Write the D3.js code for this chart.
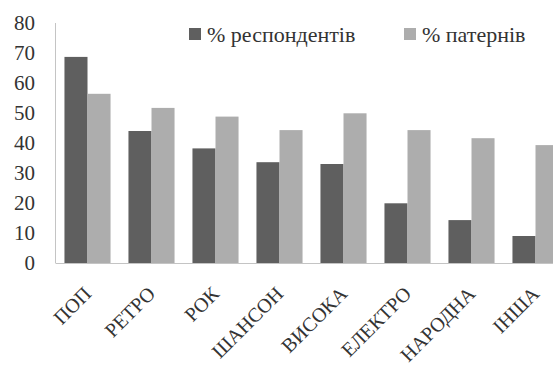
<!DOCTYPE html>
<html><head><meta charset="utf-8"><script src="https://cdn.jsdelivr.net/npm/d3@7"></script></head>
<body style="margin:0">
<script>
// data
const categories = ["ПОП", "РЕТРО", "РОК", "ШАНСОН", "ВИСОКА", "ЕЛЕКТРО", "НАРОДНА", "ІНША"];
const respondents = [68.7, 44, 38.2, 33.6, 33, 19.9, 14.3, 9];
const patterns = [56.4, 51.7, 48.8, 44.3, 49.9, 44.3, 41.6, 39.3];
const seriesNames = ["% респондентів", "% патернів"];
const seriesColors = ["#5f5f5f", "#adadad"];
const yTicks = [0, 10, 20, 30, 40, 50, 60, 70, 80];

const W = 553, H = 374;
const plotLeft = 55.5, plotTop = 23, plotBottom = 263;
const serif = "Tinos, 'Times New Roman', 'Liberation Serif', 'Noto Serif', 'DejaVu Serif', serif";

const svg = d3.select("body").append("svg")
    .attr("width", W).attr("height", H)
    .attr("font-family", serif);

let x0 = d3.scaleBand().domain(categories)
    .range([plotLeft, plotLeft + 64 * categories.length])
    .paddingInner(0.28).paddingOuter(0.14);
let x1 = d3.scaleBand().domain([0, 1]).range([0, x0.bandwidth()]);
let y = d3.scaleLinear().domain([0, 80]).range([plotBottom, plotTop]);

// bars
const series = [respondents, patterns];
series.forEach((vals, si) => {
    svg.selectAll(".bar" + si).data(vals).enter()
        .append("rect")
        .attr("class", "bar" + si)
        .attr("x", (d, i) => x0(categories[i]) + x1(si))
        .attr("y", d => y(d))
        .attr("width", x1.bandwidth())
        .attr("height", d => y(0) - y(d))
        .attr("fill", seriesColors[si]);
});

// axes lines
svg.append("line")
    .attr("x1", plotLeft).attr("x2", plotLeft)
    .attr("y1", y(80)).attr("y2", y(0))
    .attr("stroke", "#c4c4c4");
svg.append("line")
    .attr("x1", plotLeft).attr("x2", W)
    .attr("y1", y(0) + 0.5).attr("y2", y(0) + 0.5)
    .attr("stroke", "#c4c4c4");

// y labels
svg.selectAll(".ylab").data(yTicks).enter()
    .append("text")
    .attr("x", 35)
    .attr("y", d => y(d) + 7)
    .attr("text-anchor", "end")
    .attr("fill", "#333")
    .style("font-family", serif)
    .style("font-size", "21px")
    .text(d => d);

// x labels rotated
svg.selectAll(".xlab").data(categories).enter()
    .append("text")
    .attr("text-anchor", "end")
    .attr("fill", "#333")
    .attr("transform", d => "translate(" + (x0(d) + x0.bandwidth() / 2 + 5) + ",295) rotate(-45)")
    .style("font-family", serif)
    .style("font-size", "20px")
    .text(d => d);

// legend
const legX = [189, 404];
seriesNames.forEach((name, i) => {
    svg.append("rect")
        .attr("x", legX[i]).attr("y", 28)
        .attr("width", 12).attr("height", 12)
        .attr("fill", seriesColors[i]);
    svg.append("text")
        .attr("x", legX[i] + 18).attr("y", 42)
        .attr("fill", "#333")
        .style("font-family", serif)
        .style("font-size", "22px")
        .text(name);
});
</script></body></html>
